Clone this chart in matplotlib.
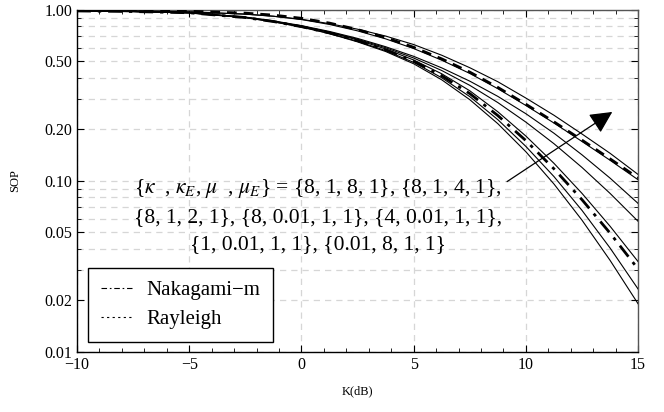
import matplotlib
matplotlib.use("Agg")
import matplotlib.pyplot as plt
from matplotlib.lines import Line2D
from matplotlib.ticker import FixedLocator, NullFormatter, MultipleLocator

plt.rcParams['font.family'] = ['Liberation Serif', 'DejaVu Serif']
plt.rcParams['mathtext.fontset'] = 'stix'

K_dB = [-10, -7.5, -5, -2.5, -1.25, 0, 1.25, 2.5, 3.75, 5, 6.25, 7.5, 8.75, 10, 11.25, 12.5, 13.75, 15]

# kappa-mu curves (solid)
sop_c1 = [0.991, 0.986, 0.975, 0.944, 0.918, 0.881, 0.831, 0.771, 0.703, 0.627, 0.543, 0.459, 0.380, 0.305, 0.242, 0.188, 0.145, 0.109]
sop_c2 = [0.990, 0.985, 0.972, 0.945, 0.918, 0.878, 0.822, 0.754, 0.677, 0.594, 0.508, 0.425, 0.346, 0.276, 0.218, 0.170, 0.132, 0.1015]
sop_c3 = [0.986, 0.979, 0.964, 0.908, 0.863, 0.809, 0.748, 0.681, 0.609, 0.535, 0.458, 0.383, 0.312, 0.247, 0.190, 0.142, 0.1038, 0.0738]
sop_c4 = [0.986, 0.979, 0.963, 0.905, 0.859, 0.804, 0.742, 0.674, 0.601, 0.523, 0.442, 0.362, 0.287, 0.2206, 0.165, 0.1198, 0.0845, 0.058]
sop_c5 = [0.985, 0.978, 0.962, 0.904, 0.858, 0.802, 0.738, 0.667, 0.591, 0.509, 0.423, 0.3365, 0.2536, 0.1828, 0.1267, 0.0845, 0.0543, 0.0337]
sop_c6 = [0.985, 0.977, 0.961, 0.901, 0.853, 0.795, 0.729, 0.655, 0.578, 0.493, 0.401, 0.311, 0.228, 0.159, 0.106, 0.0672, 0.0405, 0.0233]
sop_c7 = [0.985, 0.977, 0.959, 0.900, 0.851, 0.793, 0.726, 0.650, 0.571, 0.484, 0.390, 0.2985, 0.216, 0.148, 0.0959, 0.0589, 0.0343, 0.0191]
# special cases
sop_nakagami = [0.986, 0.978, 0.962, 0.902, 0.855, 0.798, 0.733, 0.661, 0.584, 0.501, 0.412, 0.324, 0.241, 0.172, 0.1176, 0.0776, 0.0495, 0.0305]
sop_rayleigh = [0.995, 0.991, 0.982, 0.957, 0.932, 0.893, 0.837, 0.767, 0.689, 0.604, 0.517, 0.4325, 0.352, 0.2805, 0.2214, 0.173, 0.1345, 0.104]

y_ticks = [0.01, 0.02, 0.05, 0.10, 0.20, 0.50, 1.00]
x_ticks = [-10, -5, 0, 5, 10, 15]

fig = plt.figure(figsize=(6.64, 4.12), dpi=100)
ax = fig.add_axes([0.116, 0.146, 0.845, 0.830])

for s in [sop_c1, sop_c2, sop_c3, sop_c4, sop_c5, sop_c6, sop_c7]:
    ax.plot(K_dB, s, color='black', lw=0.8, zorder=3)
ax.plot(K_dB, sop_nakagami, color='black', lw=2.0, dashes=(5, 2.5, 1.2, 2.5), zorder=4)
ax.plot(K_dB, sop_rayleigh, color='black', lw=2.0, dashes=(3.5, 2.5), zorder=4)

ax.set_yscale('log')
ax.set_xlim(-10, 15)
ax.set_ylim(0.01, 1.0)
ax.yaxis.set_major_locator(FixedLocator(y_ticks))
ax.set_yticklabels(['%.2f' % v for v in y_ticks])
minor_y = [0.03, 0.04, 0.06, 0.07, 0.08, 0.09, 0.3, 0.4, 0.6, 0.7, 0.8, 0.9]
ax.yaxis.set_minor_locator(FixedLocator(minor_y))
ax.yaxis.set_minor_formatter(NullFormatter())
ax.xaxis.set_major_locator(FixedLocator(x_ticks))
ax.xaxis.set_minor_locator(MultipleLocator(1))

ax.tick_params(which='both', direction='in', top=True, right=True, labelsize=11.5)
ax.tick_params(which='major', length=5, width=0.8)
ax.tick_params(which='minor', length=3, width=0.6)

ax.grid(which='major', axis='x', color='#d6d6d6', lw=0.9, dashes=(5, 4))
ax.grid(which='both', axis='y', color='#d6d6d6', lw=0.9, dashes=(5, 4))
ax.set_axisbelow(True)

for side in ['left', 'bottom']:
    ax.spines[side].set_color('black')
    ax.spines[side].set_linewidth(1.0)
for side in ['top', 'right']:
    ax.spines[side].set_color('#555555')
    ax.spines[side].set_linewidth(1.0)

ax.set_xlabel('K(dB)', fontsize=9, labelpad=9)
ax.set_ylabel('SOP', fontsize=9, labelpad=17)

txt = (r"{$\kappa$  , $\kappa_E$, $\mu$  , $\mu_E$} = {8, 1, 8, 1}, {8, 1, 4, 1}," + "\n"
       + "{8, 1, 2, 1}, {8, 0.01, 1, 1}, {4, 0.01, 1, 1}," + "\n"
       + "{1, 0.01, 1, 1}, {0.01, 8, 1, 1}")
ax.text(0.75, 0.0625, txt, ha='center', va='center', multialignment='center',
        fontsize=15.5, linespacing=1.58, zorder=5)

ax.annotate('', xy=(13.85, 0.253), xytext=(9.16, 0.099),
            arrowprops=dict(arrowstyle='-|>', mutation_scale=34, lw=0.9,
                            color='black', shrinkA=0, shrinkB=0), zorder=6)

handles = [Line2D([], [], color='black', lw=0.8, dashes=(5, 2.5, 1.5, 2.5)),
           Line2D([], [], color='black', lw=0.8, dashes=(2, 3))]
leg = ax.legend(handles, ['Nakagami\u2212m', 'Rayleigh'], loc='lower left',
                bbox_to_anchor=(0.0196, 0.029), borderaxespad=0, fontsize=15,
                fancybox=False, framealpha=1, edgecolor='black',
                handlelength=1.5, handletextpad=0.7, borderpad=0.6, labelspacing=0.45)
leg.get_frame().set_linewidth(1.0)
leg.set_zorder(7)

fig.savefig('out.png', dpi=100)
